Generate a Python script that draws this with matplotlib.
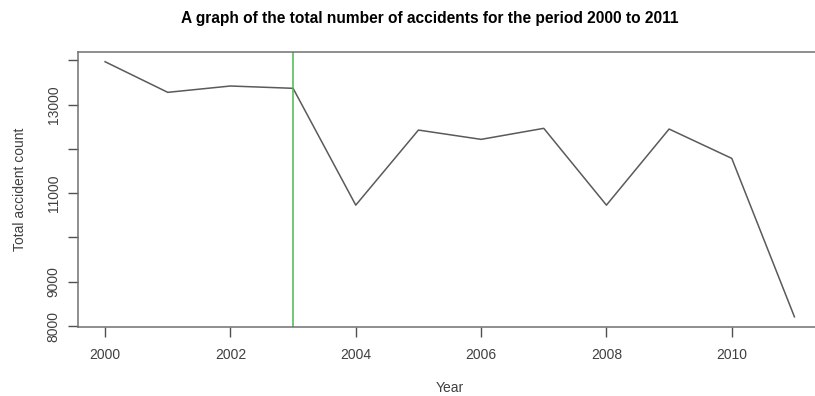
import matplotlib
matplotlib.use("Agg")
import matplotlib.pyplot as plt

years = [2000, 2001, 2002, 2003, 2004, 2005, 2006, 2007, 2008, 2009, 2010, 2011]
accidents = [13966, 13275, 13418, 13366, 10730, 12424, 12214, 12463, 10730, 12447, 11785, 8210]
marker_year = 2003

y_ticks = [8000, 9000, 10000, 11000, 12000, 13000, 14000]
y_tick_labels = ["8000", "9000", "", "11000", "", "13000", ""]
x_ticks = [2000, 2002, 2004, 2006, 2008, 2010]

plt.rcParams["font.family"] = ["Liberation Sans", "DejaVu Sans"]

fig = plt.figure(figsize=(8.15, 3.96), dpi=100)
ax = fig.add_axes([0.0951, 0.1742, 0.9135, 0.6957])

ax.plot(years, accidents, color="#5a5a5a", linewidth=1.1)
ax.axvline(marker_year, color="#4cb84c", linewidth=1.1)

pad_x = 0.04 * (max(years) - min(years))
pad_y = 0.04 * (max(accidents) - min(accidents))
ax.set_xlim(min(years) - pad_x, max(years) + pad_x)
ax.set_ylim(min(accidents) - pad_y, max(accidents) + pad_y)

ax.set_xticks(x_ticks)
ax.set_xticklabels([str(x) for x in x_ticks])
ax.set_yticks(y_ticks)
ax.set_yticklabels(y_tick_labels, rotation=90, va="center")

for sp in ax.spines.values():
    sp.set_color("#707070")
    sp.set_linewidth(1.1)

ax.tick_params(axis="both", direction="out", length=7, width=1.0,
               color="#505050", labelsize=10, labelcolor="#404040")
ax.tick_params(axis="x", pad=8)
ax.tick_params(axis="y", pad=5)

ax.set_xlabel("Year", fontsize=10, color="#404040", labelpad=14)
ax.set_ylabel("Total accident count", fontsize=10, color="#404040", labelpad=14)

fig.text(430 / 815, 1 - 19 / 396,
         "A graph of the total number of accidents for the period 2000 to 2011",
         fontsize=11.2, fontweight="bold", color="#000000",
         ha="center", va="center")

fig.savefig("out.png", dpi=100)
